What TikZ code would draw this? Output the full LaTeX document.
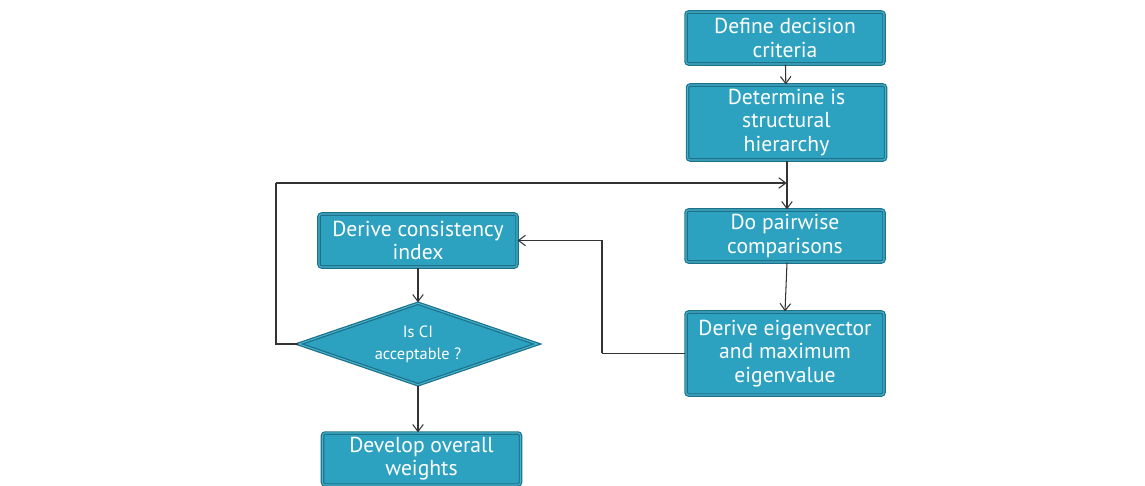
\documentclass[tikz,border=0pt]{standalone}
\usepackage{fontspec}
\setmainfont{PT Sans}
\usepackage{tikz}
\usetikzlibrary{shapes.geometric,arrows.meta}
\definecolor{boxfill}{HTML}{2CA1C0}
\definecolor{boxline}{HTML}{1D7189}
\definecolor{boxinner}{HTML}{45B3CE}
\definecolor{arrowline}{HTML}{333333}

\tikzset{
  stepbox/.style={draw=boxline, fill=boxfill, line width=0.7pt,
    double=boxinner, double distance=0.6pt, rounded corners=1.5pt,
    text=white, align=center, font=\fontsize{12.3}{13.2}\selectfont,
    minimum width=3.96cm, inner sep=1pt},
  choice/.style={diamond, aspect=2.9, draw=boxline, fill=boxfill,
    line width=0.7pt, double=boxinner, double distance=0.6pt, text=white,
    align=center, font=\fontsize{9.3}{12.5}\selectfont,
    minimum width=4.78cm, minimum height=1.64cm, inner sep=0pt},
  flow/.style={->, >={Straight Barb[length=4pt,width=6pt]}, draw=arrowline,
    line width=0.6pt}
}

\begin{document}
\begin{tikzpicture}
  \useasboundingbox (0, 0) rectangle (22.9, -9.7);

  \node[stepbox, minimum height=1.04cm]
    (crit) at (15.7, -0.76) {Define decision\\criteria};

  \node[stepbox, minimum height=1.5cm]
    (hier) at (15.73, -2.45) {Determine is\\structural\\hierarchy};

  \node[stepbox, minimum height=1.04cm]
    (pair) at (15.7, -4.72) {Do pairwise\\comparisons};

  \node[stepbox, minimum height=1.66cm]
    (eig) at (15.7, -7.07) {Derive eigenvector\\and maximum\\eigenvalue};

  \node[stepbox, minimum height=1.06cm]
    (ci) at (8.36, -4.81) {Derive consistency\\index};

  \node[choice]
    (ok) at (8.36, -6.88) {Is CI\\acceptable ?};

  \node[stepbox, minimum height=1.04cm]
    (wts) at (8.43, -9.18) {Develop overall\\weights};

  \node[inner sep=0, minimum size=0] (J1) at (15.74, -3.66) {};
  \node[inner sep=0, minimum size=0] (L1) at (5.52, -3.66) {};
  \node[inner sep=0, minimum size=0] (E1) at (12.04, -7.07) {};

  \draw[flow]
    (crit) -- (hier);

  \draw[flow]
    (hier.south -| J1) -- (pair.north -| J1);

  \draw[flow]
    (pair.south -| J1) -- (eig.north);

  \draw[flow]
    (ok.west) -| (L1) -- (J1);

  \draw[flow]
    (eig.west) -- (E1) |- (ci.east);

  \draw[flow]
    (ci) -- (ok);

  \draw[flow]
    (ok.south) -- (wts.north -| ok.south);
\end{tikzpicture}
\end{document}
